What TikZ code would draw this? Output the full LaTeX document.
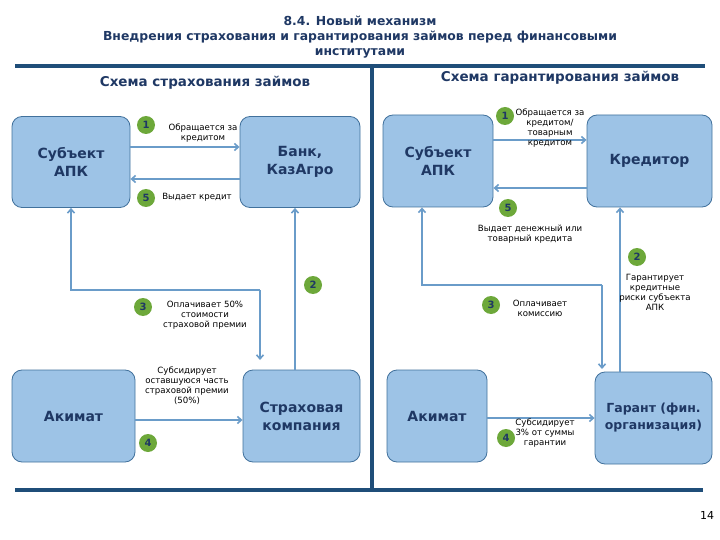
\documentclass[tikz,border=0pt]{standalone}
\usepackage{fontspec}
\setmainfont{DejaVu Sans}
\usetikzlibrary{arrows.meta}
\definecolor{navy}{HTML}{1F3864}
\definecolor{boxf}{HTML}{9DC3E6}
\definecolor{boxd}{HTML}{41719C}
\definecolor{arr}{HTML}{6A9CC9}
\definecolor{bar}{HTML}{1F4E79}
\definecolor{grn}{HTML}{6DA83A}
\begin{document}
\begin{tikzpicture}[x=1pt,y=-1pt,
  box/.style={draw=boxd,fill=boxf,rounded corners=10pt,line width=0.8pt,font=\bfseries\fontsize{14}{18}\selectfont,text=navy,align=center},
  num/.style={circle,fill=grn,inner sep=0pt,minimum size=18pt,font=\bfseries\fontsize{10}{10}\selectfont,text=navy},
  lbl/.style={font=\fontsize{8.6}{10}\selectfont,align=center,text=black},
  ar/.style={draw=arr,line width=1.6pt,-{Straight Barb[length=4pt,width=7pt]}},
  br/.style={draw=bar,line width=4pt}]
\useasboundingbox (0,0) rectangle (720,540);
\node[font=\bfseries\fontsize{12.4}{15}\selectfont,text=navy,align=center] (title) at (360,37) {8.4. Новый механизм\\Внедрения страхования и гарантирования займов перед финансовыми\\институтами};
\draw[br] (15,66) -- (705,66);
\draw[br] (372,66) -- (372,490);
\draw[br] (15,490) -- (703,490);
\node[font=\bfseries\fontsize{13.5}{15}\selectfont,text=navy] (h1) at (205,83) {Схема страхования займов};
\node[font=\bfseries\fontsize{13.5}{15}\selectfont,text=navy] (h2) at (560,78) {Схема гарантирования займов};
% left
\node[box,minimum width=118pt,minimum height=91pt] (s1) at (71,162) {Субъект\\АПК};
\node[box,minimum width=120pt,minimum height=91pt] (b1) at (300,162) {Банк,\\КазАгро};
\node[box,minimum width=123pt,minimum height=92pt] (a1) at (73.5,416) {Акимат};
\node[box,minimum width=117pt,minimum height=92pt] (k1) at (301.5,416) {Страховая\\компания};
\draw[ar] (s1.east |- 0,147) -- (b1.west |- 0,147);
\draw[ar] (b1.west |- 0,179) -- (s1.east |- 0,179);
\coordinate (c1) at (71,290); \coordinate (c2) at (260,290);
\draw[ar] (c2) -- (c1) -- (s1.south -| c1);
\draw[ar] (c2) -- (260,360);
\draw[ar] (k1.north -| 295,0) -- (b1.south -| 295,0);
\draw[ar] (a1.east |- 0,420) -- (k1.west |- 0,420);
\node[num] (n1) at (146,125) {1};
\node[lbl] (t1) at (203,133) {Обращается за\\кредитом};
\node[num] (n5) at (146,198) {5};
\node[lbl] (t5) at (197,197) {Выдает кредит};
\node[num] (n2) at (313,285) {2};
\node[num] (n3) at (143,307) {3};
\node[lbl] (t3) at (205,315) {Оплачивает 50\%\\стоимости\\страховой премии};
\node[lbl] (t4) at (187,386) {Субсидирует\\оставшуюся часть\\страховой премии\\(50\%)};
\node[num] (n4) at (148,443) {4};
% right
\node[box,minimum width=110pt,minimum height=92pt] (s2) at (438,161) {Субъект\\АПК};
\node[box,minimum width=125pt,minimum height=92pt] (kr) at (649.5,161) {Кредитор};
\node[box,minimum width=100pt,minimum height=92pt] (a2) at (437,416) {Акимат};
\node[box,minimum width=117pt,minimum height=92pt,font=\bfseries\fontsize{12.5}{17}\selectfont] (g2) at (653.5,418) {Гарант (фин.\\организация)};
\draw[ar] (s2.east |- 0,140) -- (kr.west |- 0,140);
\draw[ar] (kr.west |- 0,188) -- (s2.east |- 0,188);
\coordinate (d1) at (422,285); \coordinate (d2) at (602,285);
\draw[ar] (d2) -- (d1) -- (s2.south -| d1);
\draw[ar] (d2) -- (602,369);
\draw[ar] (g2.north -| 620,0) -- (kr.south -| 620,0);
\draw[ar] (a2.east |- 0,418) -- (g2.west |- 0,418);
\node[num] (m1) at (505,116) {1};
\node[lbl] (u1) at (550,128) {Обращается за\\кредитом/\\товарным\\кредитом};
\node[num] (m5) at (508,208) {5};
\node[lbl] (u5) at (530,234) {Выдает денежный или\\товарный кредита};
\node[num] (m2) at (637,257) {2};
\node[lbl] (u2) at (655,292) {Гарантирует\\кредитные\\риски субъекта\\АПК};
\node[num] (m3) at (491,305) {3};
\node[lbl] (u3) at (540,308) {Оплачивает\\комиссию};
\node[num] (m4) at (506,438) {4};
\node[lbl] (u4) at (545,433) {Субсидирует\\3\% от суммы\\гарантии};
\node[font=\fontsize{11}{12}\selectfont] (pg) at (707,515) {14};
\end{tikzpicture}
\end{document}
